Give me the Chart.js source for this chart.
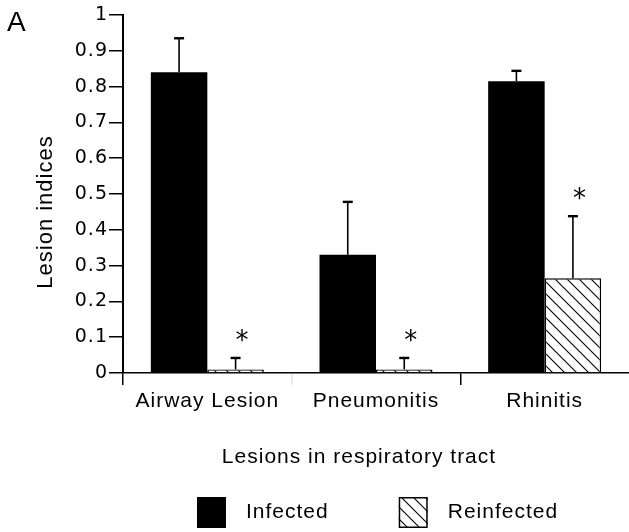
<!DOCTYPE html>
<html>
<head>
<meta charset="utf-8">
<title>Lesion indices</title>
<script src="https://cdn.jsdelivr.net/npm/chart.js@4.4.1/dist/chart.umd.min.js"></script>
<style>
  html, body { margin: 0; padding: 0; background: #fff; }
  canvas { display: block; }
</style>
</head>
<body>
<canvas id="lesionChart" width="629" height="532"></canvas>
<script>
// mean lesion index per site, with one-sided SD bars
const regions = ['Airway Lesion', 'Pneumonitis', 'Rhinitis'];
const infected = [0.84, 0.33, 0.815];
const infectedSD = [0.095, 0.148, 0.029];
const reinfected = [0.01, 0.01, 0.265];
const reinfectedSD = [0.032, 0.032, 0.173];
const reinfectedSig = [true, true, true]; // * marks significant drop vs infected
const yTickLabels = ['0', '0.1', '0.2', '0.3', '0.4', '0.5', '0.6', '0.7', '0.8', '0.9', '1'];
const xTickColors = ['#000', '#e4e4e4', '#000'];

const FONT = "'Liberation Sans', Arial, Helvetica, sans-serif";

const canvas = document.getElementById('lesionChart');
const ctx = canvas.getContext('2d');

// diagonal "\\\" hatch used for the reinfected group
function hatchPattern(size) {
  const tile = document.createElement('canvas');
  tile.width = tile.height = size;
  const g = tile.getContext('2d');
  g.fillStyle = '#fff';
  g.fillRect(0, 0, size, size);
  g.strokeStyle = '#000';
  g.lineWidth = 1.1;
  g.beginPath();
  g.moveTo(-1, -1); g.lineTo(size + 1, size + 1);
  g.moveTo(size - 1, -1); g.lineTo(size + 1, 1);
  g.moveTo(-1, size - 1); g.lineTo(1, size + 1);
  g.stroke();
  return ctx.createPattern(tile, 'repeat');
}
const hatch = hatchPattern(12);

// slightly wider tracking for all the lettering
const tracking = {
  id: 'tracking',
  beforeLayout(chart) { chart.ctx.letterSpacing = '1px'; },
  beforeDraw(chart) { chart.ctx.letterSpacing = '1px'; }
};

const errorBars = {
  id: 'errorBars',
  afterDatasetsDraw(chart) {
    const { ctx, scales: { y } } = chart;
    ctx.save();
    ctx.strokeStyle = '#000';
    ctx.fillStyle = '#000';
    chart.data.datasets.forEach((ds, i) => {
      const meta = chart.getDatasetMeta(i);
      meta.data.forEach((bar, j) => {
        const top = y.getPixelForValue(ds.data[j] + ds.sd[j]);
        ctx.lineWidth = 1.6;
        ctx.beginPath();
        ctx.moveTo(bar.x, bar.y);
        ctx.lineTo(bar.x, top);
        ctx.stroke();
        ctx.lineWidth = 2.4;
        ctx.beginPath();
        ctx.moveTo(bar.x - 5, top);
        ctx.lineTo(bar.x + 5, top);
        ctx.stroke();
        if (ds.sig && ds.sig[j]) {
          ctx.font = "26px 'DejaVu Sans', sans-serif";
          ctx.textAlign = 'center';
          ctx.textBaseline = 'middle';
          ctx.fillText('*', bar.x + 7, top - 16);
        }
      });
    });
    ctx.restore();
  }
};

// panel letter and axis titles
const captions = {
  id: 'captions',
  afterDraw(chart) {
    const { ctx } = chart;
    ctx.save();
    ctx.fillStyle = '#000';
    ctx.textBaseline = 'middle';

    ctx.font = `28px ${FONT}`;
    ctx.textAlign = 'left';
    ctx.fillText('A', 7, 23);

    ctx.textAlign = 'center';
    ctx.font = `21px ${FONT}`;
    ctx.fillText('Lesions in respiratory tract', 359, 457);

    ctx.save();
    ctx.translate(46, 212);
    ctx.rotate(-Math.PI / 2);
    ctx.font = `22px ${FONT}`;
    ctx.fillText('Lesion indices', 0, 0);
    ctx.restore();

    ctx.restore();
  }
};

const legendRow = {
  id: 'legendRow',
  afterDraw(chart) {
    const { ctx } = chart;
    const boxW = 29, boxH = 31, top = 497;
    let x = 197;
    ctx.save();
    ctx.font = `21px ${FONT}`;
    ctx.textBaseline = 'middle';
    ctx.textAlign = 'left';
    chart.data.datasets.forEach(ds => {
      ctx.fillStyle = ds.backgroundColor;
      ctx.fillRect(x, top, boxW, boxH);
      if (ds.borderWidth) {
        ctx.lineWidth = ds.borderWidth;
        ctx.strokeStyle = ds.borderColor;
        ctx.strokeRect(x + 0.75, top + 0.75, boxW - 1.5, boxH - 1.5);
      }
      x += boxW + 20;
      ctx.fillStyle = '#000';
      ctx.fillText(ds.label, x, top + boxH / 2);
      x += ctx.measureText(ds.label).width + 70;
    });
    ctx.restore();
  }
};

Chart.defaults.font.family = FONT;
Chart.defaults.color = '#000';

new Chart(ctx, {
  type: 'bar',
  data: {
    labels: regions,
    datasets: [
      {
        label: 'Infected',
        data: infected,
        sd: infectedSD,
        backgroundColor: '#000',
        borderWidth: 0
      },
      {
        label: 'Reinfected',
        data: reinfected,
        sd: reinfectedSD,
        sig: reinfectedSig,
        backgroundColor: hatch,
        borderColor: '#000',
        borderWidth: 1.5
      }
    ]
  },
  options: {
    responsive: false,
    animation: false,
    devicePixelRatio: 1,
    layout: { padding: { top: 15, left: 0, right: 0, bottom: 0 } },
    datasets: {
      bar: { categoryPercentage: 0.67, barPercentage: 1.0 }
    },
    plugins: {
      legend: { display: false },
      tooltip: { enabled: false }
    },
    scales: {
      x: {
        afterFit(scale) { scale.height = 159; },
        ticks: { padding: 4, font: { size: 21 } },
        grid: {
          drawOnChartArea: false,
          tickLength: 12,
          lineWidth: 1.5,
          color: c => (c.tick ? xTickColors[c.index] : 'transparent')
        },
        border: { color: '#000', width: 1.5 }
      },
      y: {
        min: 0,
        max: 1,
        afterFit(scale) { scale.width = 123; },
        ticks: {
          stepSize: 0.1,
          padding: 1,
          font: { family: "'DejaVu Sans', sans-serif", size: 19 },
          callback: (v, i) => yTickLabels[i]
        },
        grid: {
          drawOnChartArea: false,
          tickLength: 14,
          lineWidth: 1.5,
          color: '#000'
        },
        border: { color: '#000', width: 2 }
      }
    }
  },
  plugins: [tracking, errorBars, captions, legendRow]
});
</script>
</body>
</html>
